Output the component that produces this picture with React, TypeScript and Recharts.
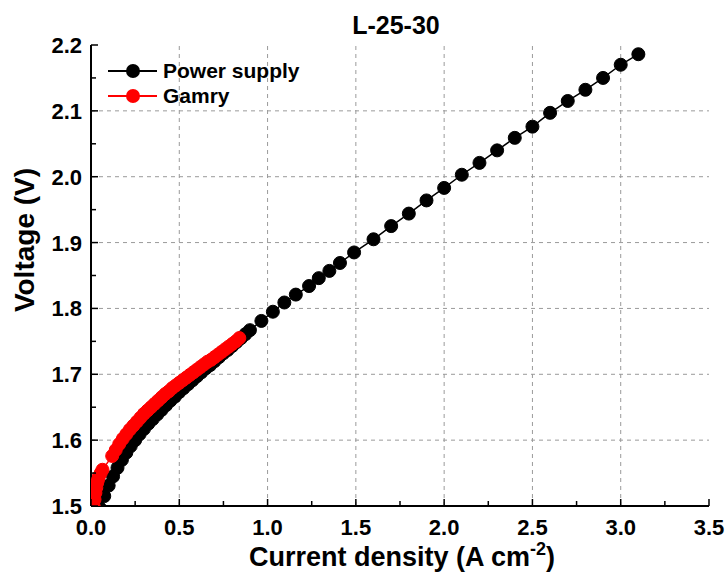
import { LineChart, Line, XAxis, YAxis, ReferenceLine } from "recharts";

// Power supply polarization curve (A cm-2 vs V)
const PS_J = [
  0.05, 0.075, 0.1, 0.125, 0.15, 0.175, 0.2, 0.225, 0.25, 0.275, 0.3, 0.325, 0.35, 0.375, 0.4, 0.425,
  0.45, 0.475, 0.5, 0.525, 0.55, 0.575, 0.6, 0.625, 0.65, 0.675, 0.7, 0.725, 0.75, 0.775, 0.8, 0.825,
  0.85, 0.875, 0.9, 0.965, 1.03, 1.095, 1.16, 1.235, 1.29, 1.35, 1.41, 1.49, 1.6, 1.7, 1.8, 1.9, 2.0,
  2.1, 2.2, 2.3, 2.4, 2.5, 2.6, 2.7, 2.8, 2.9, 3.0, 3.1,
];
const PS_V = [
  1.497, 1.515, 1.531, 1.545, 1.558, 1.57, 1.581, 1.591, 1.6, 1.609, 1.617, 1.625, 1.632, 1.639,
  1.646, 1.653, 1.66, 1.666, 1.673, 1.679, 1.685, 1.691, 1.697, 1.703, 1.709, 1.714, 1.72, 1.726,
  1.732, 1.737, 1.743, 1.749, 1.755, 1.761, 1.767, 1.781, 1.795, 1.809, 1.821, 1.834, 1.846, 1.857,
  1.869, 1.885, 1.905, 1.925, 1.944, 1.964, 1.983, 2.003, 2.021, 2.04, 2.059, 2.076, 2.097, 2.115,
  2.132, 2.15, 2.17, 2.186,
];

// Gamry measurement
const GAMRY_J = [
  0.01, 0.015, 0.02, 0.025, 0.03, 0.035, 0.04, 0.045, 0.055, 0.065, 0.12, 0.14, 0.16, 0.18, 0.2,
  0.22, 0.24, 0.26, 0.28, 0.3, 0.32, 0.34, 0.36, 0.38, 0.4, 0.42, 0.44, 0.46, 0.48, 0.5, 0.52, 0.54,
  0.56, 0.58, 0.6, 0.62, 0.64, 0.66, 0.68, 0.7, 0.72, 0.74, 0.76, 0.78, 0.8, 0.82, 0.84,
];
const GAMRY_V = [
  1.49, 1.5, 1.51, 1.52, 1.528, 1.535, 1.54, 1.545, 1.55, 1.555, 1.576, 1.585, 1.594, 1.602, 1.609,
  1.616, 1.622, 1.628, 1.634, 1.64, 1.645, 1.65, 1.655, 1.66, 1.665, 1.67, 1.674, 1.679, 1.683, 1.687,
  1.691, 1.695, 1.699, 1.703, 1.707, 1.711, 1.715, 1.719, 1.722, 1.726, 1.73, 1.734, 1.738, 1.742,
  1.746, 1.75, 1.755,
];

const X_TICKS = [0, 0.25, 0.5, 0.75, 1, 1.25, 1.5, 1.75, 2, 2.25, 2.5, 2.75, 3, 3.25, 3.5];
const X_GRID = [0.5, 1, 1.5, 2, 2.5, 3];
const Y_TICKS = [1.5, 1.55, 1.6, 1.65, 1.7, 1.75, 1.8, 1.85, 1.9, 1.95, 2.0, 2.05, 2.1, 2.15, 2.2];
const Y_GRID = [1.6, 1.7, 1.8, 1.9, 2.0, 2.1];

const TITLE = "L-25-30";
const SERIES = [
  { name: "Power supply", color: "#000000" },
  { name: "Gamry", color: "#ff0000" },
];

const psData = PS_J.map((j, i) => ({ j, v: PS_V[i] }));
const gamryData = GAMRY_J.map((j, i) => ({ j, v: GAMRY_V[i] }));

const FONT = "'Liberation Sans', Arial, sans-serif";
const isMajorX = (v: number) => Math.abs(v * 2 - Math.round(v * 2)) < 1e-6;
const isMajorY = (v: number) => Math.abs(v * 10 - Math.round(v * 10)) < 1e-6;

function XTick({ x, y, payload, side }: any) {
  const major = isMajorX(payload.value);
  const len = major ? 7 : 5;
  const dir = side === "bottom" ? -1 : 1;
  return (
    <g>
      <line x1={x} x2={x} y1={y} y2={y + dir * len} stroke="#000" strokeWidth={1.5} />
      {side === "bottom" && major && (
        <text x={x} y={y + 29} textAnchor="middle" fontFamily={FONT} fontWeight="bold" fontSize={22} fill="#000">
          {payload.value.toFixed(1)}
        </text>
      )}
    </g>
  );
}

function YTick({ x, y, payload, side }: any) {
  const major = isMajorY(payload.value);
  const len = major ? 7 : 5;
  const dir = side === "left" ? 1 : -1;
  return (
    <g>
      <line x1={x} x2={x + dir * len} y1={y} y2={y} stroke="#000" strokeWidth={1.5} />
      {side === "left" && major && (
        <text x={x - 9} y={y + 8} textAnchor="end" fontFamily={FONT} fontWeight="bold" fontSize={22} fill="#000">
          {payload.value.toFixed(1)}
        </text>
      )}
    </g>
  );
}

const axisLine = { stroke: "#000", strokeWidth: 2 };
const gridProps = { stroke: "#9a9a9a", strokeDasharray: "4 4", strokeWidth: 1 };

export default function App() {
  return (
    <div style={{ position: "absolute", left: 0, top: 0, width: 727, height: 573, background: "#fff" }}>
      <LineChart width={727} height={573} margin={{ top: 45, right: 18, bottom: 0, left: 0 }}>
        {X_GRID.map((v) => (
          <ReferenceLine key={"gx" + v} x={v} xAxisId="b" yAxisId="l" {...gridProps} />
        ))}
        {Y_GRID.map((v) => (
          <ReferenceLine key={"gy" + v} y={v} xAxisId="b" yAxisId="l" {...gridProps} />
        ))}
        <Line
          data={psData}
          dataKey="v"
          xAxisId="b"
          yAxisId="l"
          stroke="#000"
          strokeWidth={1.5}
          dot={{ r: 6.5, fill: "#000", stroke: "#000", strokeWidth: 1 }}
          isAnimationActive={false}
        />
        <Line
          data={gamryData}
          dataKey="v"
          xAxisId="b"
          yAxisId="l"
          stroke="#ff0000"
          strokeWidth={1.5}
          dot={{ r: 6.5, fill: "#ff0000", stroke: "#ff0000", strokeWidth: 1 }}
          isAnimationActive={false}
        />
        <XAxis
          xAxisId="b"
          type="number"
          dataKey="j"
          domain={[0, 3.5]}
          ticks={X_TICKS}
          interval={0}
          allowDataOverflow
          height={67}
          tickSize={0}
          tickMargin={0}
          tickLine={false}
          axisLine={axisLine}
          tick={(p: any) => <XTick {...p} side="bottom" />}
          label={({ viewBox }: any) => (
            <text
              x={viewBox.x + viewBox.width / 2 + 2}
              y={viewBox.y + 60}
              textAnchor="middle"
              fontFamily={FONT}
              fontWeight="bold"
              fontSize={27}
              fill="#000"
            >
              Current density (A cm
              <tspan dy={-11} fontSize={18}>-2</tspan>
              <tspan dy={11}>)</tspan>
            </text>
          )}
        />
        <XAxis
          xAxisId="t"
          orientation="top"
          type="number"
          domain={[0, 3.5]}
          ticks={X_TICKS}
          interval={0}
          allowDataOverflow
          height={0}
          tickSize={0}
          tickMargin={0}
          tickLine={false}
          axisLine={axisLine}
          tick={(p: any) => <XTick {...p} side="top" />}
        />
        <YAxis
          yAxisId="l"
          type="number"
          domain={[1.5, 2.2]}
          ticks={Y_TICKS}
          interval={0}
          allowDataOverflow
          width={91}
          tickSize={0}
          tickMargin={0}
          tickLine={false}
          axisLine={axisLine}
          tick={(p: any) => <YTick {...p} side="left" />}
          label={({ viewBox }: any) => {
            const cx = viewBox.x + 24;
            const cy = viewBox.y + 195;
            return (
              <text
                x={cx}
                y={cy}
                transform={`rotate(-90, ${cx}, ${cy})`}
                textAnchor="middle"
                dominantBaseline="central"
                fontFamily={FONT}
                fontWeight="bold"
                fontSize={28}
                fill="#000"
              >
                Voltage (V)
              </text>
            );
          }}
        />
        <YAxis
          yAxisId="r"
          orientation="right"
          type="number"
          domain={[1.5, 2.2]}
          ticks={Y_TICKS}
          interval={0}
          allowDataOverflow
          width={0}
          tickSize={0}
          tickMargin={0}
          tickLine={false}
          axisLine={axisLine}
          tick={(p: any) => <YTick {...p} side="right" />}
        />
      </LineChart>
      <svg style={{ position: "absolute", left: 300, top: 0 }} width={200} height={44}>
        <text x={96} y={34} textAnchor="middle" fontFamily={FONT} fontWeight="bold" fontSize={25} fill="#000">
          {TITLE}
        </text>
      </svg>
      <svg style={{ position: "absolute", left: 100, top: 55 }} width={220} height={60}>
        {SERIES.map((s, i) => (
          <g key={s.name}>
            <line x1={8} x2={57} y1={16 + i * 25} y2={16 + i * 25} stroke={s.color} strokeWidth={2} />
            <circle cx={33} cy={16 + i * 25} r={7} fill={s.color} />
            <text x={63} y={23 + i * 25} fontFamily={FONT} fontWeight="bold" fontSize={21} fill="#000">
              {s.name}
            </text>
          </g>
        ))}
      </svg>
    </div>
  );
}
